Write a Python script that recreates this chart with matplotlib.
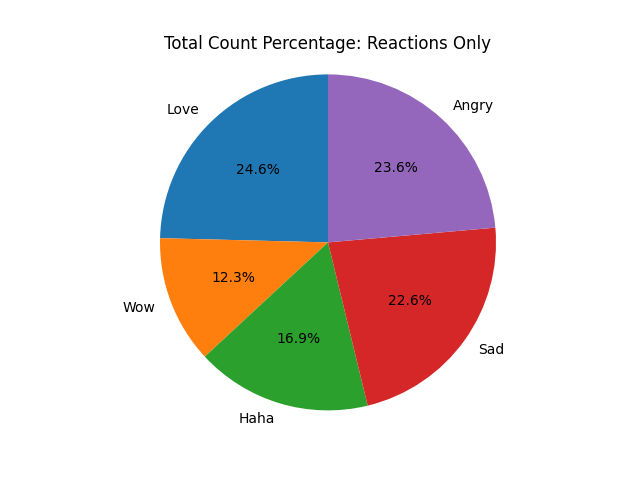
from matplotlib import pyplot as plt

labels = ["Love", "Wow", "Haha", "Sad", "Angry"]
shares = [24.6, 12.3, 16.9, 22.6, 23.6]

fig, ax = plt.subplots(figsize=(6.4, 4.8), dpi=100)
ax.pie(shares, labels=labels, autopct="%1.1f%%", startangle=90)
ax.axis("equal")
ax.set_title("Total Count Percentage: Reactions Only")
fig.savefig("out.png")
